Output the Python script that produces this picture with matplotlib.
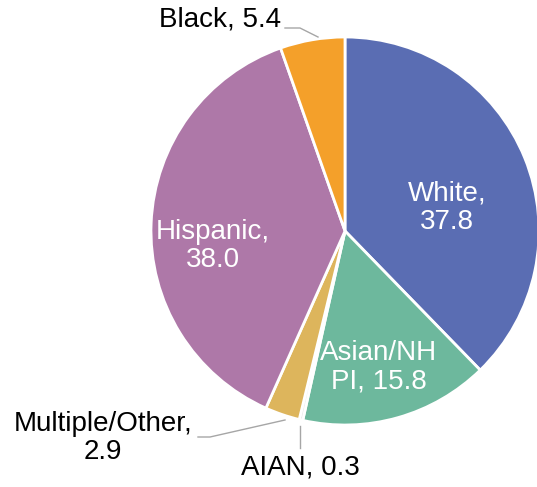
import matplotlib.pyplot as plt
import numpy as np

plt.rcParams['font.family'] = ['Liberation Sans', 'DejaVu Sans']

labels = ['White', 'Asian/NH\nPI', 'AIAN', 'Multiple/Other', 'Hispanic', 'Black']
values = [37.8, 15.8, 0.3, 2.9, 38.0, 5.4]
colors = ['#5A6DB3', '#6DB89D', '#E9E9E9', '#DDB55C', '#AE78A8', '#F4A02A']

fig = plt.figure(figsize=(5.37, 4.87), dpi=100)
ax = fig.add_axes([0, 0, 1, 1])

# pie centre at roughly (345, 231) px, radius ~194 px
R = 194.0
cx, cy = 345.0, 231.0
W, H = 537.0, 487.0

wedges, _ = ax.pie(values, colors=colors, startangle=90, counterclock=False,
                   radius=1.0, center=(0, 0),
                   wedgeprops=dict(edgecolor='white', linewidth=2))

ax.set_xlim(-cx / R, (W - cx) / R)
ax.set_ylim(-(H - cy) / R, cy / R)
ax.set_aspect('equal')
ax.axis('off')


def px(x, y):
    return ((x - cx) / R, (cy - y) / R)


fs = 20
ls = 1.12
# inside labels
ax.text(*px(447, 208), 'White,\n37.8', color='white', fontsize=fs,
        ha='center', va='center', linespacing=ls)
ax.text(*px(213, 246), 'Hispanic,\n38.0', color='white', fontsize=fs,
        ha='center', va='center', linespacing=ls)
ax.text(*px(379, 367), 'Asian/NH\nPI, 15.8', color='white', fontsize=fs,
        ha='center', va='center', linespacing=ls)

# outside labels with leader lines
lc = '#A6A6A6'
ax.plot(*zip(px(285, 28), px(300, 28), px(318, 37)), color=lc, lw=1)
ax.text(*px(220, 19), 'Black, 5.4', color='black', fontsize=fs,
        ha='center', va='center')

ax.plot(*zip(px(198, 437), px(210, 437), px(285, 420)), color=lc, lw=1)
ax.text(*px(103, 438), 'Multiple/Other,\n2.9', color='black', fontsize=fs,
        ha='center', va='center', linespacing=ls)

ax.plot(*zip(px(300, 426), px(300, 448)), color=lc, lw=1)
ax.text(*px(300, 468), 'AIAN, 0.3', color='black', fontsize=fs,
        ha='center', va='center')

plt.savefig('out.png', dpi=100)
